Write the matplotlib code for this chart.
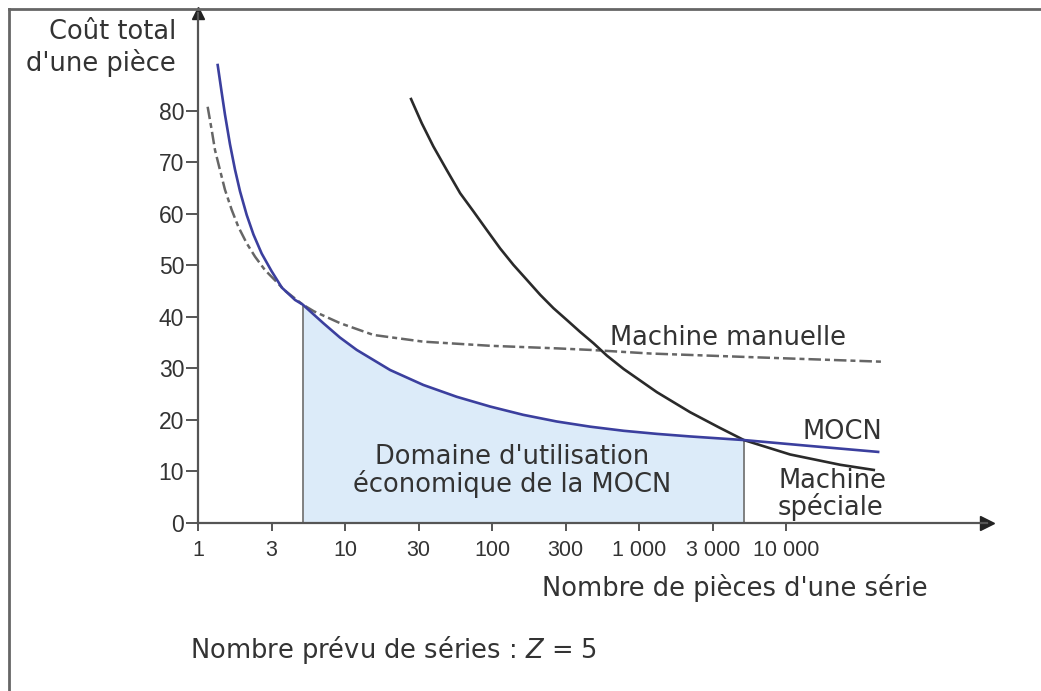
import numpy as np
import matplotlib
matplotlib.use("Agg")
import matplotlib.pyplot as plt
from matplotlib.lines import Line2D

# ---------------- data ----------------
tick_values = [1, 3, 10, 30, 100, 300, 1000, 3000, 10000]
tick_labels = ["1", "3", "10", "30", "100", "300", "1 000", "3 000", "10 000"]
y_ticks = [0, 10, 20, 30, 40, 50, 60, 70, 80]

mocn_x = [1.342, 1.424, 1.496, 1.613, 1.738, 1.873, 2.07, 2.29, 2.59, 3.0, 3.55, 4.41, 5,
          7.0, 9.2, 11.9, 19.6, 32.4, 56, 97, 159, 263, 448, 775, 1302, 2142, 5000, 13690, 40500]
mocn_y = [88.9, 83.6, 79.3, 73.5, 68.6, 64.4, 59.8, 56.0, 52.3, 48.9, 45.7, 43.3, 42.4,
          38.8, 36.0, 33.6, 29.7, 26.8, 24.5, 22.6, 21.0, 19.7, 18.7, 17.9, 17.3, 16.8, 16.1, 15.0, 13.8]

manu_x = [1.155, 1.227, 1.289, 1.389, 1.496, 1.654, 1.827, 2.07, 2.345, 2.72, 3.18, 3.74, 5,
          6.0, 9.2, 15.3, 32.4, 97, 263, 448, 1179, 5540, 44300]
manu_y = [80.8, 76.3, 72.4, 68.5, 64.7, 60.8, 57.5, 54.3, 51.7, 49.1, 47.1, 45.1, 42.4,
          41.1, 38.8, 36.5, 35.2, 34.4, 33.9, 33.6, 32.9, 32.2, 31.3]

spec_x = [26.8, 31.6, 38.2, 47.6, 59.3, 73.6, 91.5, 112.7, 137.5, 168, 205, 250, 306, 380, 473,
          589, 775, 1302, 2142, 3300, 5000, 10600, 22400, 37700]
spec_y = [82.3, 77.6, 73.1, 68.5, 64.0, 60.5, 56.9, 53.3, 50.1, 47.2, 44.3, 41.7, 39.4, 37.1, 34.9,
          32.5, 29.9, 25.4, 21.5, 18.6, 16.1, 13.3, 11.3, 10.3]

domain_bounds = [5, 5000]

# ---------------- scale: equally spaced 1-3-10 ticks ----------------
scale_vals = np.array([0.1, 0.3, 1, 3, 10, 30, 100, 300, 1e3, 3e3, 1e4, 3e4, 1e5, 3e5, 1e6, 3e6])
scale_log = np.log10(scale_vals)
scale_idx = np.arange(len(scale_vals)) - 2.0

def fwd(x):
    x = np.asarray(x, dtype=float)
    return np.interp(np.log10(np.clip(x, 1e-6, None)), scale_log, scale_idx)

def inv(p):
    p = np.asarray(p, dtype=float)
    return 10 ** np.interp(p, scale_idx, scale_log)

# ---------------- figure ----------------
W, H = 1041, 691
fig = plt.figure(figsize=(W / 100, H / 100), dpi=100)
TXT = "#333333"
AX = "#555555"

ax = fig.add_axes([198 / W, 1 - 523 / H, (987 - 198) / W, (523 - 13) / H])
ax.set_xscale("function", functions=(fwd, inv))
ax.set_xlim(1, float(inv(10.73)))
ax.set_ylim(0, 99)

for s in ["top", "right"]:
    ax.spines[s].set_visible(False)
for s in ["left", "bottom"]:
    ax.spines[s].set_color(AX)
    ax.spines[s].set_linewidth(1.6)

ax.plot(1, 0, ">", color="#222222", ms=10, transform=ax.transAxes, clip_on=False)
ax.plot(0, 1, "^", color="#222222", ms=9, transform=ax.transAxes, clip_on=False)

ax.set_xticks(tick_values)
ax.set_xticklabels(tick_labels)
ax.set_yticks(y_ticks)
ax.minorticks_off()
ax.tick_params(axis="both", colors=AX, width=1.4, labelcolor=TXT)
ax.tick_params(axis="x", labelsize=15.5, pad=6, length=6)
ax.tick_params(axis="y", labelsize=16.5, pad=1, length=9)
for lab in ax.get_xticklabels() + ax.get_yticklabels():
    lab.set_fontfamily("Liberation Sans")

# shaded economic domain
mx = np.array(mocn_x)
my = np.array(mocn_y)
mask = (mx >= domain_bounds[0]) & (mx <= domain_bounds[1])
ax.fill_between(mx[mask], 0, my[mask], color="#dcebf9", lw=0, zorder=1)
for b in domain_bounds:
    yb = my[mx == b][0]
    ax.plot([b, b], [0, yb], color="#777777", lw=1.3, zorder=2)

ax.plot(manu_x, manu_y, color="#666666", lw=1.8, dashes=(5, 1.6, 2, 1.6), zorder=3,
        solid_joinstyle="round")
ax.plot(spec_x, spec_y, color="#2a2a2a", lw=1.9, zorder=4, solid_joinstyle="round")
ax.plot(mocn_x, mocn_y, color="#3b3f9e", lw=1.9, zorder=5, solid_joinstyle="round")

FS = 18.5
ax.text(620, 35.9, "Machine manuelle", fontsize=FS, color=TXT, ha="left", va="center")
ax.text(12700, 17.7, "MOCN", fontsize=FS, color=TXT, ha="left", va="center")
ax.text(8750, 5.5, "Machine\nspéciale", fontsize=FS, color=TXT, ha="left", va="center",
        linespacing=0.95)
ax.text(135, 10.0, "Domaine d'utilisation\néconomique de la MOCN", fontsize=FS, color=TXT,
        ha="center", va="center", linespacing=1.0)

fig.text(176 / W, 1 - 48 / H, "Coût total\nd'une pièce", fontsize=FS, color=TXT,
         ha="right", va="center", multialignment="right", linespacing=1.15)
fig.text(542 / W, 1 - 588 / H, "Nombre de pièces d'une série", fontsize=FS, color=TXT,
         ha="left", va="center")
fig.text(190 / W, 1 - 650 / H, "Nombre prévu de séries : $Z$ = 5", fontsize=FS, color=TXT,
         ha="left", va="center")

# outer frame (top and left borders)
fig.add_artist(Line2D([9 / W, 1], [1 - 9 / H, 1 - 9 / H], color="#666666", lw=2,
                      transform=fig.transFigure))
fig.add_artist(Line2D([9 / W, 9 / W], [0, 1 - 9 / H], color="#666666", lw=2,
                      transform=fig.transFigure))

fig.savefig("out.png", dpi=100)
